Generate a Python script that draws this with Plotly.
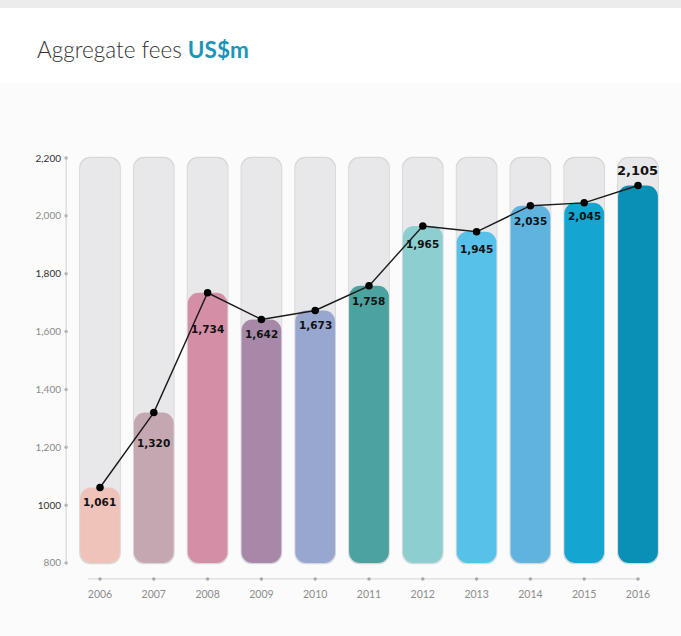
import plotly.graph_objects as go

# ---------------- data ----------------
years = ["2006", "2007", "2008", "2009", "2010", "2011", "2012", "2013", "2014", "2015", "2016"]
fees = [1061, 1320, 1734, 1642, 1673, 1758, 1965, 1945, 2035, 2045, 2105]
fee_labels = ["1,061", "1,320", "1,734", "1,642", "1,673", "1,758", "1,965", "1,945", "2,035", "2,045", "2,105"]
bar_colors = ["#efc3b9", "#c4a7b1", "#d48ea6", "#a888a8", "#97a7d0", "#4ca29e",
              "#8dcfd1", "#58c1e9", "#60b3df", "#14a6d0", "#0a8fb6"]
y_tick_vals = [800, 1000, 1200, 1400, 1600, 1800, 2000, 2200]
y_tick_text = ["800", "1000", "1,200", "1,400", "1,600", "1,800", "2,000", "2,200"]

# ---------------- style constants ----------------
y_tick_colors = ["#8a8a8a", "#333333", "#8a8a8a", "#8a8a8a", "#8a8a8a", "#333333", "#8a8a8a", "#333333"]
label_shift = [-15, -30, -36, -15, -15, -15, -18, -17, -15, -13, 15]
label_size = [10.5] * 10 + [13]
AXIS_MIN, AXIS_MAX = 800, 2200
BAR_W = 0.74
RADIUS = 11
GRAY = "#e8e8ea"
GRAY_EDGE = "#d8d8da"

idx = list(range(len(years)))
n = len(years)

fig = go.Figure()


def capsule(top, bottom, color, width):
    # a bar with an explicit base is rounded at both ends
    fig.add_trace(go.Bar(x=idx, y=[t - bottom for t in top], base=[bottom] * n, width=width,
                         marker=dict(color=color, cornerradius=RADIUS, line=dict(width=0)),
                         hoverinfo="skip", showlegend=False))


# gray background capsules with a faint edge
capsule([AXIS_MAX + 4] * n, AXIS_MIN - 4, GRAY_EDGE, BAR_W + 0.035)
capsule([AXIS_MAX] * n, AXIS_MIN, GRAY, BAR_W)
# coloured capsules
capsule(fees, AXIS_MIN, bar_colors, BAR_W)

# y axis line with dot ticks
Y_AXIS_X = -0.63
fig.add_trace(go.Scatter(x=[Y_AXIS_X, Y_AXIS_X], y=[AXIS_MIN, AXIS_MAX], mode="lines",
                         line=dict(color="#cfcfcf", width=1), hoverinfo="skip", showlegend=False))
fig.add_trace(go.Scatter(x=[Y_AXIS_X] * len(y_tick_vals), y=y_tick_vals, mode="markers",
                         marker=dict(color="#b5b5b5", size=3.5), hoverinfo="skip", showlegend=False))

# x axis line with dot ticks
X_AXIS_Y = 745
fig.add_trace(go.Scatter(x=[-0.22, idx[-1]], y=[X_AXIS_Y, X_AXIS_Y], mode="lines",
                         line=dict(color="#d3d3d3", width=1), hoverinfo="skip", showlegend=False))
fig.add_trace(go.Scatter(x=idx, y=[X_AXIS_Y] * n, mode="markers",
                         marker=dict(color="#a9a9a9", size=3.5), hoverinfo="skip", showlegend=False))

# trend line
fig.add_trace(go.Scatter(x=idx, y=fees, mode="lines+markers",
                         line=dict(color="#1a1a1a", width=1.4),
                         marker=dict(color="#000000", size=7.5),
                         hoverinfo="skip", showlegend=False))

annotations = [
    dict(xref="paper", yref="paper", x=-0.0479, y=1.2315, xanchor="left", yanchor="middle",
         showarrow=False,
         text="Aggregate fees <b style='color:#1a95b8'>US$m</b>",
         font=dict(family="Lato", size=22.5, color="#333333", weight=300)),
]
for i in idx:
    annotations.append(dict(x=i, y=fees[i], xref="x", yref="y", text=fee_labels[i], showarrow=False,
                            yshift=label_shift[i], xanchor="center", yanchor="middle",
                            font=dict(family="DejaVu Sans", size=label_size[i], color="#111111", weight="bold")))

# ---------------- layout ----------------
fig.update_layout(
    width=681, height=636,
    margin=dict(l=64, r=11, t=150, b=54),
    paper_bgcolor="#fbfbfb",
    plot_bgcolor="#fbfbfb",
    barmode="overlay",
    font=dict(family="Lato", color="#8a8a8a"),
    xaxis=dict(range=[-0.669, 10.595], tickmode="array", tickvals=idx, ticktext=years,
               showgrid=False, zeroline=False, showline=False, ticks="",
               tickfont=dict(size=10.5, color="#8c8c8c"), ticklabelstandoff=4, fixedrange=True),
    yaxis=dict(range=[734.3, 2227.7], tickmode="array", tickvals=y_tick_vals,
               ticktext=[f"<span style='color:{c}'>{t}</span>" for t, c in zip(y_tick_text, y_tick_colors)],
               showgrid=False, zeroline=False, showline=False, ticks="",
               tickfont=dict(size=10), ticklabelstandoff=2, fixedrange=True),
    shapes=[
        dict(type="rect", xref="paper", yref="paper", x0=-0.2, x1=1.1, y0=1.3287, y1=1.36,
             fillcolor="#ececec", line=dict(width=0), layer="below"),
        dict(type="rect", xref="paper", yref="paper", x0=-0.2, x1=1.1, y0=1.155, y1=1.3287,
             fillcolor="#ffffff", line=dict(width=0), layer="below"),
    ],
    annotations=annotations,
)

fig.write_html("out.html")
